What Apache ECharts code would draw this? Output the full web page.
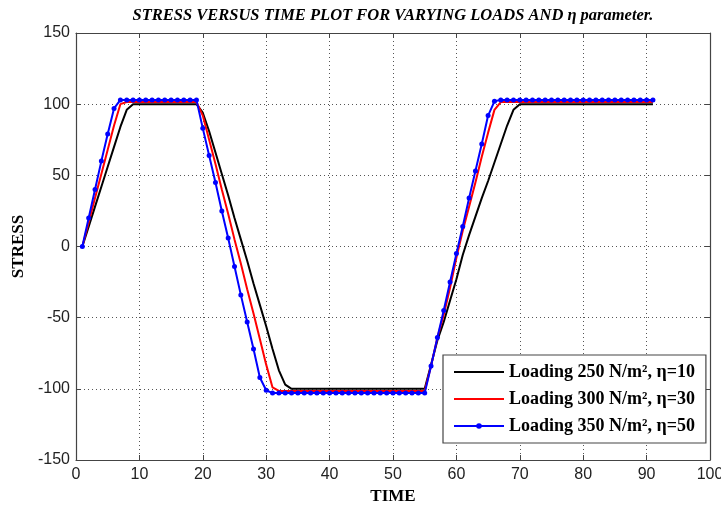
<!DOCTYPE html>
<html>
<head>
<meta charset="utf-8">
<script src="https://cdn.jsdelivr.net/npm/echarts@6/dist/echarts.min.js"></script>
<style>html,body{margin:0;padding:0;background:#fff}#c{width:721px;height:509px}</style>
</head>
<body>
<div id="c"></div>
<script>
// time samples 1..91
var times = [1,2,3,4,5,6,7,8,9,10,11,12,13,14,15,16,17,18,19,20,21,22,23,24,25,26,27,28,29,30,
31,32,33,34,35,36,37,38,39,40,41,42,43,44,45,46,47,48,49,50,51,52,53,54,55,56,57,58,59,60,
61,62,63,64,65,66,67,68,69,70,71,72,73,74,75,76,77,78,79,80,81,82,83,84,85,86,87,88,89,90,91];

var stress250 = [0,14,28,42,56,70,84,96,100,100,100,100,100,100,100,100,100,100,100,94,
81,66,51,36,20,5,-10,-26,-41,-56,-72,-87,-97,-100,-100,-100,-100,-100,-100,-100,
-100,-100,-100,-100,-100,-100,-100,-100,-100,-100,-100,-100,-100,-100,-100,-83,-66,-53,-38,-23,
-6,8,21,34,46,59,72,85,96,100,100,100,100,100,100,100,100,100,100,100,
100,100,100,100,100,100,100,100,100,100,100];

var stress300 = [0,17,34,51,68,85,100,101.5,101.5,101.5,101.5,101.5,101.5,101.5,101.5,101.5,101.5,101.5,101.5,92,
75,58,40,23,5,-12,-30,-47,-65,-83,-99,-101.5,-101.5,-101.5,-101.5,-101.5,-101.5,-101.5,-101.5,-101.5,
-101.5,-101.5,-101.5,-101.5,-101.5,-101.5,-101.5,-101.5,-101.5,-101.5,-101.5,-101.5,-101.5,-101.5,-101.5,-84,-64,-48,-29,-8,
11,28,45,63,80,96,101.5,101.5,101.5,101.5,101.5,101.5,101.5,101.5,101.5,101.5,101.5,101.5,101.5,101.5,
101.5,101.5,101.5,101.5,101.5,101.5,101.5,101.5,101.5,101.5,101.5];

var stress350 = [0,20,40,60,79,97,103,103,103,103,103,103,103,103,103,103,103,103,103,83,
64,45,25,6,-14,-34,-53,-72,-92,-101,-103,-103,-103,-103,-103,-103,-103,-103,-103,-103,
-103,-103,-103,-103,-103,-103,-103,-103,-103,-103,-103,-103,-103,-103,-103,-84,-64,-45,-25,-5,
14,34,53,72,92,102,103,103,103,103,103,103,103,103,103,103,103,103,103,103,
103,103,103,103,103,103,103,103,103,103,103];

var seriesNames = ['Loading 250 N/m\u00b2, \u03b7=10','Loading 300 N/m\u00b2, \u03b7=30','Loading 350 N/m\u00b2, \u03b7=50'];
var xTicks = {min:0, max:100, interval:10};
var yTicks = {min:-150, max:150, interval:50};

function pairs(v){ return times.map(function(t,i){ return [t, v[i]]; }); }

var lineIcon = 'path://M0,0 L50,0 L50,2 L0,2 Z';
var chart = echarts.init(document.getElementById('c'));
var axisLineStyle = {color:'#444', width:1.2};
var labelFont = {color:'#222', fontFamily:'Liberation Sans', fontSize:16};
chart.setOption({
  animation:false,
  backgroundColor:'#fff',
  title:{
    text:'STRESS VERSUS TIME PLOT FOR VARYING LOADS AND \u03b7 parameter.',
    left:388, top:2, textAlign:'center',
    textStyle:{fontFamily:'Liberation Serif', fontStyle:'italic', fontWeight:'bold', fontSize:16.5, color:'#000'}
  },
  grid:{left:76, top:33, right:11, bottom:49, containLabel:false, outerBoundsMode:'none'},
  legend:{
    orient:'vertical', left:443, top:355,
    padding:[8,11,8,10], itemGap:9, itemWidth:50, itemHeight:7, symbolKeepAspect:true,
    borderColor:'#444', borderWidth:1.2, backgroundColor:'#fff',
    textStyle:{fontFamily:'Liberation Serif', fontWeight:'bold', fontSize:18, color:'#000'},
    data:[{name:seriesNames[0], icon:lineIcon},{name:seriesNames[1], icon:lineIcon},{name:seriesNames[2]}]
  },
  xAxis:[{
    type:'value', min:xTicks.min, max:xTicks.max, interval:xTicks.interval,
    name:'TIME', nameLocation:'middle', nameGap:27,
    nameTextStyle:{fontFamily:'Liberation Serif', fontWeight:'bold', fontSize:17, color:'#000'},
    axisLine:{show:true, onZero:false, lineStyle:axisLineStyle},
    axisTick:{show:true, inside:true, length:5, lineStyle:{color:'#444'}},
    axisLabel:Object.assign({margin:7}, labelFont),
    splitLine:{show:true, lineStyle:{type:[1,3], color:'#555', width:1}}
  },{
    type:'value', position:'top', min:xTicks.min, max:xTicks.max, interval:xTicks.interval,
    axisLine:{show:true, onZero:false, lineStyle:axisLineStyle},
    axisTick:{show:true, inside:true, length:5, lineStyle:{color:'#444'}},
    axisLabel:{show:false}, splitLine:{show:false}
  }],
  yAxis:[{
    type:'value', min:yTicks.min, max:yTicks.max, interval:yTicks.interval,
    name:'STRESS', nameLocation:'middle', nameGap:48,
    nameTextStyle:{fontFamily:'Liberation Serif', fontWeight:'bold', fontSize:17, color:'#000'},
    axisLine:{show:true, onZero:false, lineStyle:axisLineStyle},
    axisTick:{show:true, inside:true, length:5, lineStyle:{color:'#444'}},
    axisLabel:Object.assign({margin:6}, labelFont),
    splitLine:{show:true, lineStyle:{type:[1,3], color:'#555', width:1}}
  },{
    type:'value', position:'right', min:yTicks.min, max:yTicks.max, interval:yTicks.interval,
    axisLine:{show:true, onZero:false, lineStyle:axisLineStyle},
    axisTick:{show:true, inside:true, length:5, lineStyle:{color:'#444'}},
    axisLabel:{show:false}, splitLine:{show:false}
  }],
  series:[
    {name:seriesNames[0], type:'line', data:pairs(stress250), showSymbol:false, symbol:'none',
     lineStyle:{color:'#000', width:2}, itemStyle:{color:'#000'}},
    {name:seriesNames[1], type:'line', data:pairs(stress300), showSymbol:false, symbol:'none',
     lineStyle:{color:'#ff0000', width:2}, itemStyle:{color:'#ff0000'}},
    {name:seriesNames[2], type:'line', data:pairs(stress350), symbol:'circle', symbolSize:5, showSymbol:true,
     lineStyle:{color:'#0000ff', width:2}, itemStyle:{color:'#0000ff'}}
  ]
});
</script>
</body>
</html>
